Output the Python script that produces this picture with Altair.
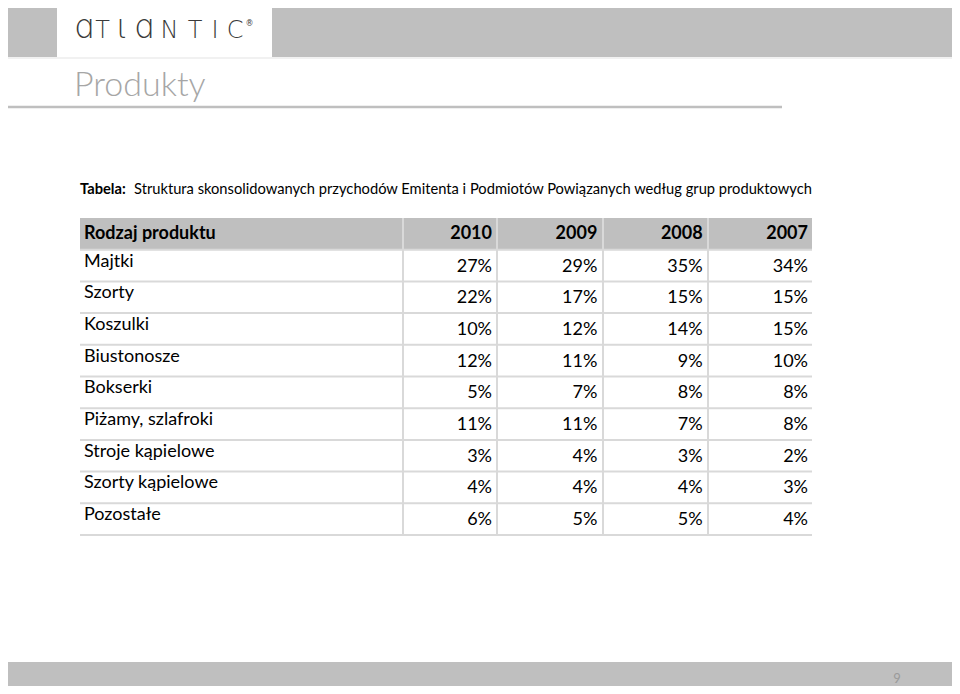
import altair as alt
import pandas as pd

# ---------------- data ----------------
header_label = "Rodzaj produktu"
products = ["Majtki", "Szorty", "Koszulki", "Biustonosze", "Bokserki",
            "Piżamy, szlafroki", "Stroje kąpielowe", "Szorty kąpielowe", "Pozostałe"]
years = [2010, 2009, 2008, 2007]
v2010 = [27, 22, 10, 12, 5, 11, 3, 4, 6]
v2009 = [29, 17, 12, 11, 7, 11, 4, 4, 5]
v2008 = [35, 15, 14, 9, 8, 7, 3, 4, 5]
v2007 = [34, 15, 15, 10, 8, 8, 2, 3, 4]
series = {2010: v2010, 2009: v2009, 2008: v2008, 2007: v2007}

title_text = "Produkty"
caption_bold = "Tabela:"
caption_text = "Struktura skonsolidowanych przychodów Emitenta i Podmiotów Powiązanych według grup produktowych"
logo_letters = ["\u0251", "T", "\u03b9", "\u0251", "N", "T", "I", "C"]
page_number = "9"

rows_domain = [header_label] + products
values_df = pd.DataFrame(
    [{"row": p, "year": y, "value": series[y][i]} for y in years for i, p in enumerate(products)]
)
labels_df = pd.DataFrame({"row": products})
years_df = pd.DataFrame({"year": years, "row": [header_label] * len(years)})
rows_df = pd.DataFrame({"row": rows_domain})

# ---------------- styling ----------------
W, H = 944, 678
FONT = "Lato"
GREY = "#bfbfbf"
LINE = "#d9d9d9"
one = alt.Data(values=[{}])

yscale = alt.Scale(domain=rows_domain, range=[210, 527], paddingInner=0, paddingOuter=0)
xscale = alt.Scale(domain=[2010, 2007], range=[484, 800], nice=False, zero=False)


def box(x1, x2, y1, y2, color):
    return alt.Chart(one).mark_rect(color=color).encode(
        x=alt.value(x1), x2=alt.value(x2), y=alt.value(y1), y2=alt.value(y2))


def hrule(x1, x2, y, color, w):
    return alt.Chart(one).mark_rule(color=color, strokeWidth=w).encode(
        x=alt.value(x1), x2=alt.value(x2), y=alt.value(y))


def vrule(x, y1, y2, color, w):
    return alt.Chart(one).mark_rule(color=color, strokeWidth=w).encode(
        x=alt.value(x), y=alt.value(y1), y2=alt.value(y2))


def txt(s, x, y, size, color, weight="normal", align="left", baseline="middle", font=FONT):
    return alt.Chart(one).mark_text(
        text=s, fontSize=size, color=color, fontWeight=weight, align=align,
        baseline=baseline, font=font).encode(x=alt.value(x), y=alt.value(y))


layers = [
    # top band with logo box
    box(0, 49, 0, 49, GREY),
    box(264, W, 0, 49, GREY),
    hrule(0, W, 50, "#e3e3e3", 1),
    # title
    txt(title_text, 66, 88, 34, "#a6a6a6", weight=300, baseline="alphabetic"),
    hrule(0, 774, 99, GREY, 2.5),
    # caption
    txt(caption_bold, 72, 182, 14.7, "#000000", weight="bold"),
    txt(caption_text, 126, 182, 14.7, "#000000"),
    # bottom band
    box(0, W, 654, H, GREY),
    txt(page_number, 889, 671, 13, "#9a9a9a", align="center"),
]

# logo letters (decoration)
logo_x = [75.5, 94.5, 114.5, 135.5, 161.5, 187, 207, 227]
for ch, lx in zip(logo_letters, logo_x):
    size = 33 if ch in ("\u0251", "\u03b9") else 24
    layers.append(txt(ch, lx, 30, size, "#3a3a3a", weight=200, align="center",
                      baseline="alphabetic", font="DejaVu Sans"))
layers.append(txt("®", 241.5, 16, 8, "#3a3a3a", align="center", font="DejaVu Sans"))

# header background
header_bg = alt.Chart(pd.DataFrame({"row": [header_label]})).mark_rect(color=GREY).encode(
    x=alt.value(72), x2=alt.value(804),
    y=alt.Y("row:N", scale=yscale, axis=None))
layers.append(header_bg)

# row separators
row_lines = alt.Chart(rows_df).mark_rule(color=LINE, strokeWidth=2).encode(
    x=alt.value(72), x2=alt.value(804),
    y=alt.Y("row:N", scale=yscale, axis=None, bandPosition=1))
layers.append(row_lines)

# column separators
for cx in [395, 489, 595, 700]:
    layers.append(vrule(cx, 210, 527, LINE, 2))

# header texts
layers.append(txt(header_label, 76, 226, 18, "#000000", weight="bold"))
header_years = alt.Chart(years_df).mark_text(
    font=FONT, fontSize=18, fontWeight="bold", align="right", baseline="middle", color="#000000"
).encode(
    x=alt.X("year:Q", scale=xscale, axis=None),
    y=alt.Y("row:N", scale=yscale, axis=None),
    text=alt.Text("year:Q", format="d"))
layers.append(header_years)

# product labels
prod_labels = alt.Chart(labels_df).mark_text(
    font=FONT, fontSize=18, align="left", baseline="middle", color="#000000", dy=-4
).encode(
    x=alt.value(76),
    y=alt.Y("row:N", scale=yscale, axis=None),
    text="row:N")
layers.append(prod_labels)

# values
vals = alt.Chart(values_df).transform_calculate(
    label="datum.value + '%'"
).mark_text(
    font=FONT, fontSize=18, align="right", baseline="middle", color="#000000", dy=1
).encode(
    x=alt.X("year:Q", scale=xscale, axis=None),
    y=alt.Y("row:N", scale=yscale, axis=None),
    text="label:N")
layers.append(vals)

chart = alt.layer(*layers).properties(
    width=W, height=H, padding=0, autosize="none", background="white"
).configure_view(stroke=None)

chart.save("out.html", embed_options={"renderer": "svg", "actions": False})
